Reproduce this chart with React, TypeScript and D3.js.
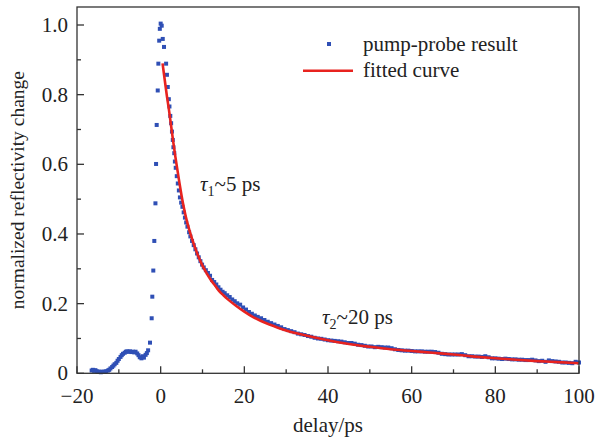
import React from "react";
import * as d3 from "d3";

// measured pump-probe data (delay in ps, normalized reflectivity change)
const delays = [
  -16.5, -16.2, -15.9, -15.6, -15.3, -15.0, -14.6, -14.3, -14.0, -13.6, -13.3, -13.0,
  -12.6, -12.3, -12.0, -11.6, -11.3, -11.0, -10.6, -10.3, -10.0, -9.6, -9.3, -9.0,
  -8.6, -8.3, -8.0, -7.6, -7.3, -7.0, -6.6, -6.3, -6.0, -5.6, -5.3, -5.0, -4.6, -4.3,
  -4.0, -3.6, -3.3, -3.0, -2.55, -2.15, -2.0, -1.76, -1.52, -1.25, -1.1, -0.95, -0.7,
  -0.55, -0.35, -0.2, 0.0, 0.25, 0.5, 0.8,
  1.3, 1.5, 1.7, 1.95, 2.1, 2.3, 2.5, 2.7, 2.9, 3.05, 3.25, 3.4, 3.6, 3.85, 4.1, 4.35,
  4.6, 4.9, 5.2, 5.5, 5.8, 6.1, 6.4, 6.8, 7.1, 7.5, 7.9, 8.3, 8.7, 9.1, 9.5, 9.9, 10.3,
  10.8, 11.3, 11.8, 12.3, 12.8, 13.3, 13.8, 14.3, 14.8, 15.3, 15.9, 16.5, 17.1, 17.7,
  18.3, 19.0, 19.7, 20.4, 21.1, 21.8, 22.5, 23.2, 24.0, 24.8, 25.6, 26.4, 27.2, 28.0,
  28.8, 29.6, 30.4, 31.2, 32.0, 32.8, 33.6, 34.4, 35.2, 36.0, 36.8, 37.6, 38.4, 39.2,
  40.0, 40.8, 41.6, 42.4, 43.2, 44.0, 44.8, 45.6, 46.4, 47.2, 48.0, 48.8, 49.6, 50.4,
  51.2, 52.0, 52.8, 53.6, 54.4, 55.2, 56.0, 56.8, 57.6, 58.4, 59.2, 60.0, 60.8, 61.6,
  62.4, 63.2, 64.0, 64.8, 65.6, 66.4, 67.2, 68.0, 68.8, 69.6, 70.4, 71.2, 72.0, 72.8,
  73.6, 74.4, 75.2, 76.0, 76.8, 77.6, 78.4, 79.2, 80.0, 80.8, 81.6, 82.4, 83.2, 84.0,
  84.8, 85.6, 86.4, 87.2, 88.0, 88.8, 89.6, 90.4, 91.2, 92.0, 92.8, 93.6, 94.4, 95.2,
  96.0, 96.8, 97.6, 98.4, 99.2, 100.0,
];
const reflectivity = [
  0.008, 0.010, 0.007, 0.009, 0.006, 0.004, 0.005, 0.003, 0.004, 0.005, 0.004, 0.006,
  0.008, 0.010, 0.014, 0.018, 0.022, 0.026, 0.030, 0.036, 0.041, 0.047, 0.052, 0.056,
  0.059, 0.062, 0.063, 0.062, 0.063, 0.061, 0.062, 0.060, 0.062, 0.057, 0.052, 0.046,
  0.043, 0.049, 0.045, 0.053, 0.058, 0.066, 0.088, 0.158, 0.220, 0.295, 0.380, 0.488,
  0.601, 0.713, 0.812, 0.889, 0.955, 0.989, 1.004, 0.998, 0.960, 0.937,
  0.889, 0.857, 0.822, 0.787, 0.766, 0.739, 0.718, 0.694, 0.670, 0.649, 0.632, 0.608,
  0.590, 0.566, 0.545, 0.525, 0.505, 0.490, 0.478, 0.462, 0.447, 0.433, 0.421, 0.405,
  0.393, 0.380, 0.368, 0.356, 0.344, 0.333, 0.322, 0.312, 0.304, 0.296, 0.288, 0.280,
  0.268, 0.262, 0.255, 0.247, 0.240, 0.234, 0.230, 0.224, 0.219, 0.212, 0.207, 0.201,
  0.197, 0.189, 0.183, 0.176, 0.171, 0.166, 0.162, 0.158, 0.153, 0.148, 0.144, 0.140,
  0.136, 0.132, 0.127, 0.124, 0.121, 0.118, 0.114, 0.112, 0.110, 0.107, 0.105, 0.102,
  0.100, 0.099, 0.097, 0.095, 0.094, 0.093, 0.092, 0.091, 0.089, 0.087, 0.087, 0.085,
  0.082, 0.081, 0.079, 0.077, 0.077, 0.075, 0.076, 0.075, 0.074, 0.074, 0.072, 0.069,
  0.067, 0.066, 0.065, 0.065, 0.064, 0.063, 0.063, 0.063, 0.062, 0.062, 0.062, 0.061,
  0.059, 0.056, 0.055, 0.054, 0.054, 0.054, 0.054, 0.055, 0.052, 0.049, 0.049, 0.048,
  0.048, 0.047, 0.049, 0.046, 0.043, 0.043, 0.042, 0.041, 0.042, 0.041, 0.040, 0.040,
  0.039, 0.039, 0.038, 0.038, 0.039, 0.037, 0.035, 0.036, 0.033, 0.037, 0.035, 0.034,
  0.033, 0.031, 0.031, 0.030, 0.029, 0.033, 0.031,
];

// fitted curve
const fitDelays = [
  0.45, 1, 1.5, 2, 2.5, 3, 3.5, 4, 4.5, 5, 5.5, 6, 7, 8, 9, 10, 11, 12, 13, 14, 15, 16,
  18, 20, 22, 24, 26, 28, 30, 35, 40, 45, 50, 55, 60, 65, 70, 75, 80, 85, 90, 95, 100,
];
const fitValues = [
  0.890, 0.840, 0.795, 0.755, 0.710, 0.665, 0.623, 0.584, 0.546, 0.510, 0.478, 0.450,
  0.405, 0.368, 0.336, 0.309, 0.287, 0.268, 0.252, 0.236, 0.224, 0.213, 0.194, 0.177,
  0.162, 0.150, 0.140, 0.131, 0.123, 0.108, 0.095, 0.084, 0.076, 0.069, 0.064, 0.059,
  0.054, 0.048, 0.043, 0.039, 0.035, 0.032, 0.029,
];

const xTicks = [-20, 0, 20, 40, 60, 80, 100];
const xTickLabels = ["\u221220", "0", "20", "40", "60", "80", "100"];
const xMinorTicks = [-10, 10, 30, 50, 70, 90];
const yTicks = [0, 0.2, 0.4, 0.6, 0.8, 1.0];
const yTickLabels = ["0", "0.2", "0.4", "0.6", "0.8", "1.0"];
const yMinorTicks = [0.1, 0.3, 0.5, 0.7, 0.9];

const legendLabels = ["pump-probe result", "fitted curve"];

const W = 598;
const H = 438;
const left = 77;
const right = 579;
const top = 7;
const bottom = 373.3;

export default function App() {
  const x = d3.scaleLinear().domain([-20, 100]).range([left, right]);
  const y = d3.scaleLinear().domain([0, 1.0]).range([bottom, 25]);
  const line = d3
    .line<number>()
    .x((_, i) => x(fitDelays[i]))
    .y((d) => y(d))
    .curve(d3.curveMonotoneX);
  const font = "'Liberation Serif', 'Times New Roman', serif";
  const axisColor = "#333";
  const blue = "#2f4fb5";
  const red = "#e8231f";
  const ps = 4;

  return (
    <svg
      width={W}
      height={H}
      style={{ position: "absolute", left: 0, top: 0, background: "#fff" }}
      fontFamily={font}
    >
      <rect x={0} y={0} width={W} height={H} fill="#fff" />
      {/* data points */}
      <g fill={blue}>
        {delays.map((d, i) => (
          <rect
            key={i}
            x={x(d) - ps / 2}
            y={y(reflectivity[i]) - ps / 2}
            width={ps}
            height={ps}
          />
        ))}
      </g>
      {/* fitted curve */}
      <path d={line(fitValues) || ""} fill="none" stroke={red} strokeWidth={2.6} />
      {/* frame */}
      <rect
        x={left}
        y={top}
        width={right - left}
        height={bottom - top}
        fill="none"
        stroke={axisColor}
        strokeWidth={1.3}
      />
      {/* ticks */}
      <g stroke={axisColor} strokeWidth={1.3}>
        {xTicks.map((t) => (
          <line key={"xt" + t} x1={x(t)} x2={x(t)} y1={bottom} y2={bottom - 7} />
        ))}
        {xMinorTicks.map((t) => (
          <line key={"xm" + t} x1={x(t)} x2={x(t)} y1={bottom} y2={bottom - 4} />
        ))}
        {yTicks.map((t) => (
          <line key={"yt" + t} x1={left} x2={left + 7} y1={y(t)} y2={y(t)} />
        ))}
        {yMinorTicks.map((t) => (
          <line key={"ym" + t} x1={left} x2={left + 4} y1={y(t)} y2={y(t)} />
        ))}
      </g>
      {/* tick labels */}
      <g fontSize={21} fill="#222">
        {xTicks.map((t, i) => (
          <text key={"xl" + t} x={x(t)} y={bottom + 30} textAnchor="middle">
            {xTickLabels[i]}
          </text>
        ))}
        {yTicks.map((t, i) => (
          <text key={"yl" + t} x={left - 9} y={y(t) + 7} textAnchor="end">
            {yTickLabels[i]}
          </text>
        ))}
      </g>
      {/* axis titles */}
      <text x={(left + right) / 2} y={432} fontSize={21} textAnchor="middle" fill="#222">
        delay/ps
      </text>
      <text
        transform={`translate(24, ${(top + bottom) / 2}) rotate(-90)`}
        fontSize={19.5}
        textAnchor="middle"
        fill="#222"
      >
        normalized reflectivity change
      </text>
      {/* legend */}
      <rect x={327} y={42} width={ps} height={ps} fill={blue} />
      <text x={363} y={51} fontSize={21} fill="#222">
        {legendLabels[0]}
      </text>
      <line x1={303} x2={353} y1={70.7} y2={70.7} stroke={red} strokeWidth={2.6} />
      <text x={363} y={77} fontSize={21} fill="#222">
        {legendLabels[1]}
      </text>
      {/* annotations */}
      <text x={200} y={191} fontSize={21} fill="#222">
        <tspan fontStyle="italic">τ</tspan>
        <tspan fontSize={14} dy={5}>1</tspan>
        <tspan dy={-5}>~5 ps</tspan>
      </text>
      <text x={322} y={324} fontSize={21} fill="#222">
        <tspan fontStyle="italic">τ</tspan>
        <tspan fontSize={14} dy={5}>2</tspan>
        <tspan dy={-5}>~20 ps</tspan>
      </text>
    </svg>
  );
}
